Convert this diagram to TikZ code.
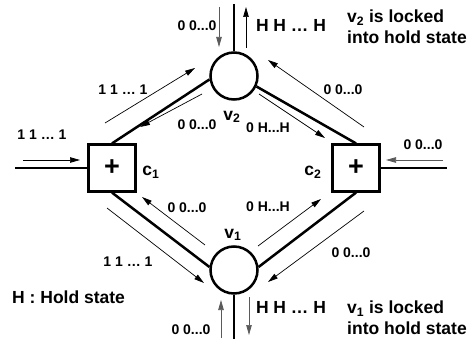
\documentclass[tikz,border=0pt]{standalone}
\usepackage{fontspec}
\setmainfont{Liberation Sans}
\usetikzlibrary{arrows.meta,positioning,calc}
\definecolor{ink}{HTML}{000000}
\definecolor{muted}{HTML}{5A5A5A}
\tikzset{
  adder/.style={draw=ink,line width=2.2pt,minimum size=47pt,inner sep=0pt,font=\fontsize{27}{27}\selectfont\bfseries},
  vnode/.style={circle,draw=ink,line width=2.5pt,minimum size=47pt,inner sep=0pt},
  wire/.style={line width=2.5pt,color=ink},
  flow/.style={-{Triangle[length=10pt,width=5.5pt]},line width=0.7pt,color=ink},
  flowg/.style={flow,color=muted},
  lbl/.style={font=\fontsize{14}{16}\selectfont\bfseries,text=ink,inner sep=0pt},
  blbl/.style={font=\fontsize{17.5}{21}\selectfont\bfseries,text=ink,inner sep=0pt},
  note/.style={blbl,anchor=west,align=left},
}
\begin{document}
\begin{tikzpicture}[x=1pt,y=-1pt]
    \useasboundingbox[fill=white] (0,0) rectangle (476,345);
    % adders and vertices
    \node[adder] (c1) at (112,168) {+};
    \node[adder] (c2) at (356,168) {+};
    \node[vnode] (v2) at (234,76) {};
    \node[vnode] (v1) at (234,270) {};
    \coordinate (inL) at (15,168);
    \coordinate (inR) at (447,168);
    \coordinate (outT) at (234,4);
    \coordinate (outB) at (234,339);
    \draw[wire] (inL) -- (c1.west);
    \draw[wire] (c2.east) -- (inR);
    \draw[wire] (v2.north) -- (outT);
    \draw[wire] (v1.south) -- (outB);
    \draw[wire] (c1.north) -- (v2.188);
    \draw[wire] (v2.-25) -- (c2.north);
    \draw[wire] (c1.south) -- (v1.173);
    \draw[wire] (v1.7) -- (c2.south);
    % message arrows
    \coordinate (p1) at (23,160);   \coordinate (q1) at (80,160);
    \coordinate (p2) at (443,160);  \coordinate (q2) at (386,160);
    \coordinate (p3) at (219,7);    \coordinate (q3) at (219,47);
    \coordinate (p4) at (246,48);   \coordinate (q4) at (246,7);
    \coordinate (p5) at (105,123);  \coordinate (q5) at (195,68);
    \coordinate (p6) at (202,94);   \coordinate (q6) at (140,127);
    \coordinate (p7) at (364,127);  \coordinate (q7) at (268,60);
    \coordinate (p8) at (259,94);   \coordinate (q8) at (325,138);
    \coordinate (p9) at (205,245);  \coordinate (q9) at (142,197);
    \coordinate (p10) at (107,208); \coordinate (q10) at (204,283);
    \coordinate (p11) at (258,246); \coordinate (q11) at (321,199);
    \coordinate (p12) at (364,211); \coordinate (q12) at (268,282);
    \coordinate (p13) at (221,338); \coordinate (q13) at (221,300);
    \coordinate (p14) at (249,297); \coordinate (q14) at (249,335);
    \foreach \i in {1,4,5,6,7,8,9,10,11,12} \draw[flow] (p\i) -- (q\i);
    \foreach \i in {2,3,13,14} \draw[flowg] (p\i) -- (q\i);
    % labels
    \node[lbl] (l1) at (42,135) {1 1 \dots\ 1};
    \node[lbl] (l2) at (423,145) {0 0...0};
    \node[lbl] (l3) at (197,26) {0 0...0};
    \node[blbl] (l4) at (291,25) {H H \dots\ H};
    \node[lbl] (l5) at (123,90) {1 1 \dots\ 1};
    \node[lbl] (l6) at (197,125) {0 0...0};
    \node[lbl] (l7) at (343,90) {0 0...0};
    \node[lbl] (l8) at (268,128) {0 H...H};
    \node[lbl] (l9) at (187,208) {0 0...0};
    \node[lbl] (l10) at (128,262) {1 1 \dots\ 1};
    \node[lbl] (l11) at (268,207) {0 H...H};
    \node[lbl] (l12) at (351,253) {0 0...0};
    \node[lbl] (l13) at (191,330) {0 0...0};
    \node[blbl] (l14) at (291,307) {H H \dots\ H};
    \node[blbl] (nv2) at (232,117) {v\textsubscript{2}};
    \node[blbl] (nv1) at (233,235) {v\textsubscript{1}};
    \node[blbl] (nc1) at (151,172) {c\textsubscript{1}};
    \node[blbl] (nc2) at (313,172) {c\textsubscript{2}};
    \node[note] (lock2) at (347,27) {v\textsubscript{2} is locked\\into hold state};
    \node[note] (lock1) at (347,318) {v\textsubscript{1} is locked\\into hold state};
    \node[note] (hold) at (12,297) {H : Hold state};
  \end{tikzpicture}
\end{document}
